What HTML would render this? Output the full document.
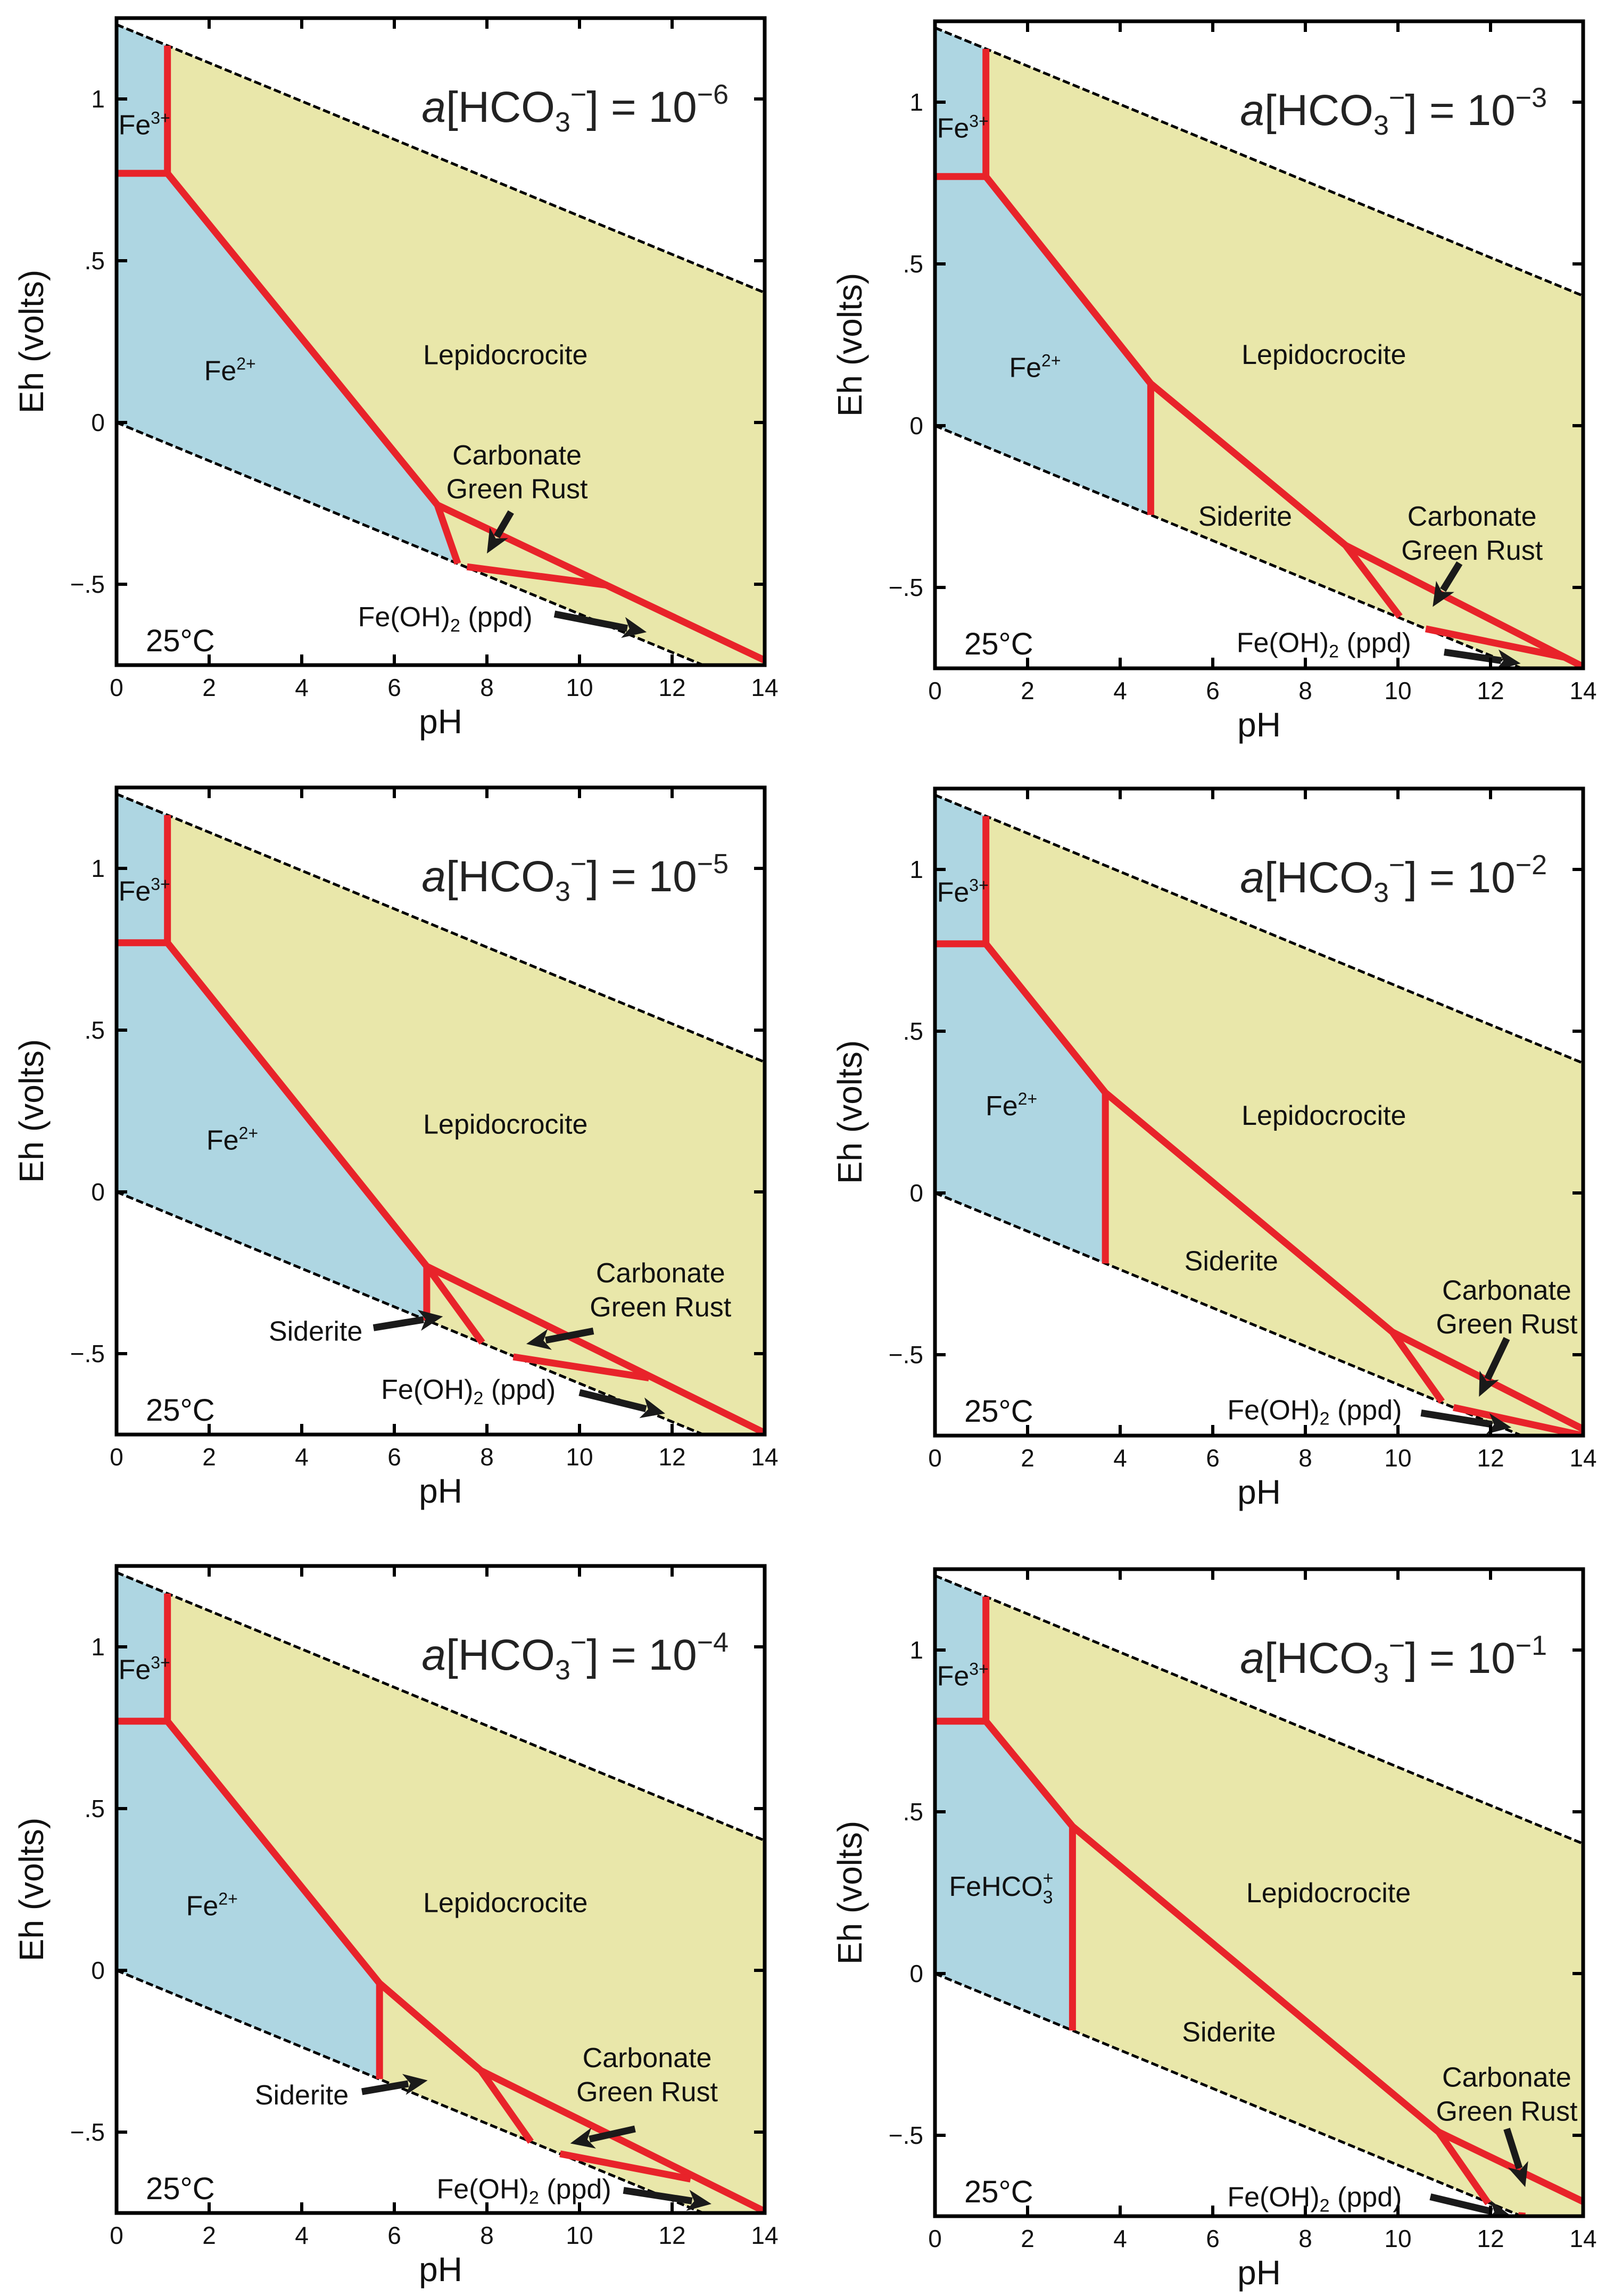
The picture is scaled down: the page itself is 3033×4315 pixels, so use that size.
<!DOCTYPE html>
<html><head><meta charset="utf-8"><style>
html,body{margin:0;padding:0;background:#fff;}
svg{display:block;font-family:"Liberation Sans",Arial,sans-serif;}
</style></head><body>
<svg id="fig" width="3033" height="4315" viewBox="0 0 3033 4315" xmlns="http://www.w3.org/2000/svg"></svg>
<script>
// ---- Data (pH, Eh) ----
const panelExponents = ["-6","-3","-5","-2","-4","-1"];
const panelOrigins = [[219,34],[1757,40],[219,1480],[1757,1482],[219,2943],[1757,2949]];
const xTicks = [0,2,4,6,8,10,12,14];
const yTicks = [1,0.5,0,-0.5];
const yTickLabels = ["1",".5","0","\u2212.5"];
// blue (aqueous) region polygons
const blueRegions = [
 [[0,1.23],[1.1,1.165],[1.1,0.77],[6.93,-0.255],[7.37,-0.436],[0,0]],
 [[0,1.23],[1.1,1.165],[1.1,0.77],[4.66,0.13],[4.66,-0.276],[0,0]],
 [[0,1.23],[1.1,1.165],[1.1,0.77],[6.7,-0.23],[6.7,-0.397],[0,0]],
 [[0,1.23],[1.1,1.165],[1.1,0.77],[3.68,0.31],[3.68,-0.218],[0,0]],
 [[0,1.23],[1.1,1.165],[1.1,0.77],[5.68,-0.04],[5.68,-0.336],[0,0]],
 [[0,1.23],[1.1,1.165],[1.1,0.78],[2.97,0.455],[2.97,-0.176],[0,0]]
];
// red boundary polylines
const redLines = [
 [[[0,0.77],[1.1,0.77],[1.1,1.165]],[[1.1,0.77],[6.93,-0.255],[7.37,-0.436]],[[6.93,-0.255],[14,-0.735]],[[7.57,-0.446],[10.6,-0.503]]],
 [[[0,0.77],[1.1,0.77],[1.1,1.165]],[[1.1,0.77],[4.66,0.13],[8.87,-0.37],[10.04,-0.59]],[[4.66,0.13],[4.66,-0.276]],[[8.87,-0.37],[14,-0.745]],[[10.6,-0.628],[13.6,-0.716]]],
 [[[0,0.77],[1.1,0.77],[1.1,1.165]],[[1.1,0.77],[6.7,-0.23],[7.9,-0.466]],[[6.7,-0.23],[6.7,-0.397]],[[6.7,-0.23],[14,-0.745]],[[8.57,-0.51],[11.5,-0.575]]],
 [[[0,0.77],[1.1,0.77],[1.1,1.165]],[[1.1,0.77],[3.68,0.31],[9.88,-0.43],[10.95,-0.645]],[[3.68,0.31],[3.68,-0.218]],[[9.88,-0.43],[14,-0.73]],[[11.2,-0.663],[14,-0.75]]],
 [[[0,0.77],[1.1,0.77],[1.1,1.165]],[[1.1,0.77],[5.68,-0.04],[7.87,-0.31],[8.95,-0.53]],[[5.68,-0.04],[5.68,-0.336]],[[7.87,-0.31],[14,-0.745]],[[9.58,-0.567],[12.4,-0.645]]],
 [[[0,0.78],[1.1,0.78],[1.1,1.165]],[[1.1,0.78],[2.97,0.455],[10.88,-0.49],[11.95,-0.71]],[[2.97,0.455],[2.97,-0.176]],[[10.88,-0.49],[14,-0.705]],[[12.6,-0.748],[12.75,-0.75]]]
];
// arrows [from, to]
const arrows = [
 [[[8.52,-0.277],[8.0,-0.405]],[[9.46,-0.592],[11.45,-0.648]]],
 [[[11.33,-0.425],[10.75,-0.56]],[[11.0,-0.70],[12.65,-0.735]]],
 [[[5.55,-0.42],[7.05,-0.385]],[[10.3,-0.43],[8.85,-0.47]],[[10.0,-0.62],[11.85,-0.685]]],
 [[[12.35,-0.45],[11.75,-0.63]],[[10.5,-0.68],[12.45,-0.725]]],
 [[[5.3,-0.375],[6.72,-0.34]],[[11.2,-0.49],[9.8,-0.535]],[[10.95,-0.68],[12.85,-0.722]]],
 [[[12.35,-0.48],[12.75,-0.66]],[[10.7,-0.69],[12.45,-0.75]]]
];
// labels [text, sup/sub, pH, Eh]
const labels = [
 [["Fe","3+",0.6,0.92],["Fe","2+",2.45,0.16],["Lepidocrocite","",8.4,0.21],["Carbonate","",8.65,-0.1],["Green Rust","",8.65,-0.205],["Fe(OH)","2 (ppd)",7.1,-0.6]],
 [["Fe","3+",0.6,0.92],["Fe","2+",2.16,0.18],["Lepidocrocite","",8.4,0.22],["Siderite","",6.7,-0.28],["Carbonate","",11.6,-0.28],["Green Rust","",11.6,-0.385],["Fe(OH)","2 (ppd)",8.4,-0.67]],
 [["Fe","3+",0.6,0.93],["Fe","2+",2.5,0.16],["Lepidocrocite","",8.4,0.21],["Siderite","",4.3,-0.43],["Carbonate","",11.75,-0.25],["Green Rust","",11.75,-0.355],["Fe(OH)","2 (ppd)",7.6,-0.61]],
 [["Fe","3+",0.6,0.93],["Fe","2+",1.65,0.27],["Lepidocrocite","",8.4,0.24],["Siderite","",6.4,-0.21],["Carbonate","",12.35,-0.3],["Green Rust","",12.35,-0.405],["Fe(OH)","2 (ppd)",8.2,-0.67]],
 [["Fe","3+",0.6,0.93],["Fe","2+",2.06,0.2],["Lepidocrocite","",8.4,0.21],["Siderite","",4.0,-0.385],["Carbonate","",11.46,-0.27],["Green Rust","",11.46,-0.375],["Fe(OH)","2 (ppd)",8.8,-0.675]],
 [["Fe","3+",0.6,0.92],["FeHCO","3+",1.43,0.27],["Lepidocrocite","",8.5,0.25],["Siderite","",6.35,-0.18],["Carbonate","",12.35,-0.32],["Green Rust","",12.35,-0.425],["Fe(OH)","2 (ppd)",8.2,-0.69]]
];
const PW=1218, PH=1216, EHMAX=1.25, EHMIN=-0.75;
const NS="http://www.w3.org/2000/svg";
const svg=document.getElementById('fig');
function mk(tag,attrs,parent){const e=document.createElementNS(NS,tag);for(const k in attrs)e.setAttribute(k,attrs[k]);(parent||svg).appendChild(e);return e;}
panelExponents.forEach((exp,i)=>{
 const [ox,oy]=panelOrigins[i];
 const sx=p=>ox+p/14*PW, sy=e=>oy+(EHMAX-e)/(EHMAX-EHMIN)*PH;
 const pts=a=>a.map(q=>sx(q[0]).toFixed(1)+','+sy(q[1]).toFixed(1)).join(' ');
 const g=mk('g',{});
 
 
 const cid='clip'+i;
 const cp=mk('clipPath',{id:cid},g); mk('rect',{x:ox,y:oy,width:PW,height:PH},cp);
 const inner=mk('g',{'clip-path':'url(#'+cid+')'},g);
 const field=[[0,1.23],[14,1.23-0.0592*14],[14,EHMIN],[0.75/0.0592,EHMIN],[0,0]];
 const y=mk('polygon',{points:pts(field),fill:'#e9e7aa'},inner);
 
 
 const b=mk('polygon',{points:pts(blueRegions[i]),fill:'#aed6e2'},inner);
 
 
 const u=mk('line',{x1:sx(0),y1:sy(1.23),x2:sx(14),y2:sy(1.23-0.0592*14),stroke:'#000','stroke-width':5,'stroke-dasharray':'14 6'},inner);
 
 
 const l=mk('line',{x1:sx(0),y1:sy(0),x2:sx(14),y2:sy(-0.0592*14),stroke:'#000','stroke-width':5,'stroke-dasharray':'14 6'},inner);
 
 
 redLines[i].forEach(r=>{
  const p=mk('polyline',{points:pts(r),fill:'none',stroke:'#e8232a','stroke-width':13,'stroke-linejoin':'miter'},inner);
  
  
 });
 arrows[i].forEach(a=>{
  const x1=sx(a[0][0]),y1=sy(a[0][1]),x2=sx(a[1][0]),y2=sy(a[1][1]);
  const dx=x2-x1,dy=y2-y1,L=Math.hypot(dx,dy),ux=dx/L,uy=dy/L,nx=-uy,ny=ux;
  const hx=x2-ux*45,hy=y2-uy*45;
  const ag=mk('g',{},inner);
  
  
  mk('line',{x1:x1,y1:y1,x2:hx+ux*8,y2:hy+uy*8,stroke:'#1a1a1a','stroke-width':13},ag);
  mk('polygon',{points:`${x2},${y2} ${hx+nx*20},${hy+ny*20} ${hx+ux*12},${hy+uy*12} ${hx-nx*20},${hy-ny*20}`,fill:'#1a1a1a'},ag);
 });
 labels[i].forEach(t=>{
  const tx=mk('text',{x:sx(t[2]),y:sy(t[3])+18,'font-size':52,'text-anchor':'middle',fill:'#111'},g);
  
  
  tx.appendChild(document.createTextNode(t[0]));
  if(t[1]){
   if(t[1].startsWith('2 ')){const s=mk('tspan',{'font-size':34,dy:10},tx);s.textContent='2';const r=mk('tspan',{dy:-10},tx);r.textContent=' (ppd)';}
   else if(t[0]==='FeHCO'){const s=mk('tspan',{'font-size':34,dy:14},tx);s.textContent='3';const r=mk('tspan',{'font-size':34,dx:-19,dy:-36},tx);r.textContent='+';}
   else{const s=mk('tspan',{'font-size':32,dy:-20},tx);s.textContent=t[1];}
  }
 });
 const tc=mk('text',{x:ox+55,y:oy+PH-26,'font-size':58,fill:'#111'},g);
 
 
 tc.textContent='25°C';
 const tt=mk('text',{x:ox+1150,y:oy+195,'font-size':82,'text-anchor':'end',fill:'#222'},g);
 
 
 const a1=mk('tspan',{'font-style':'italic'},tt);a1.textContent='a';
 const a2=mk('tspan',{},tt);a2.textContent='[HCO';
 const a3=mk('tspan',{'font-size':52,dy:18},tt);a3.textContent='3';
 const a4=mk('tspan',{'font-size':52,dy:-52},tt);a4.textContent='\u2212';
 const a5=mk('tspan',{dy:34},tt);a5.textContent='] = 10';
 const a6=mk('tspan',{'font-size':52,dy:-34},tt);a6.textContent='\u2212'+exp.replace('-','');
 const fr=mk('rect',{x:ox,y:oy,width:PW,height:PH,fill:'none',stroke:'#000','stroke-width':7},g);
 
 
 xTicks.forEach(v=>{
  mk('line',{x1:sx(v),y1:oy+PH,x2:sx(v),y2:oy+PH-20,stroke:'#000','stroke-width':6},g);
  mk('line',{x1:sx(v),y1:oy,x2:sx(v),y2:oy+20,stroke:'#000','stroke-width':6},g);
  const t=mk('text',{x:sx(v),y:oy+PH+58,'font-size':46,'text-anchor':'middle',fill:'#111'},g);
  
  
  t.textContent=v;
 });
 yTicks.forEach((v,k)=>{
  mk('line',{x1:ox,y1:sy(v),x2:ox+20,y2:sy(v),stroke:'#000','stroke-width':6},g);
  mk('line',{x1:ox+PW,y1:sy(v),x2:ox+PW-20,y2:sy(v),stroke:'#000','stroke-width':6},g);
  const t=mk('text',{x:ox-22,y:sy(v)+16,'font-size':46,'text-anchor':'end',fill:'#111'},g);
  
  
  t.textContent=yTickLabels[k];
 });
 const xt=mk('text',{x:ox+PW/2,y:oy+PH+128,'font-size':64,'text-anchor':'middle',fill:'#111'},g);
 
 
 xt.textContent='pH';
 const yt=mk('text',{x:0,y:0,'font-size':64,'text-anchor':'middle',fill:'#111',transform:`translate(${ox-138},${oy+PH/2}) rotate(-90)`},g);
 
 
 yt.textContent='Eh (volts)';
});
</script>
</body></html>
